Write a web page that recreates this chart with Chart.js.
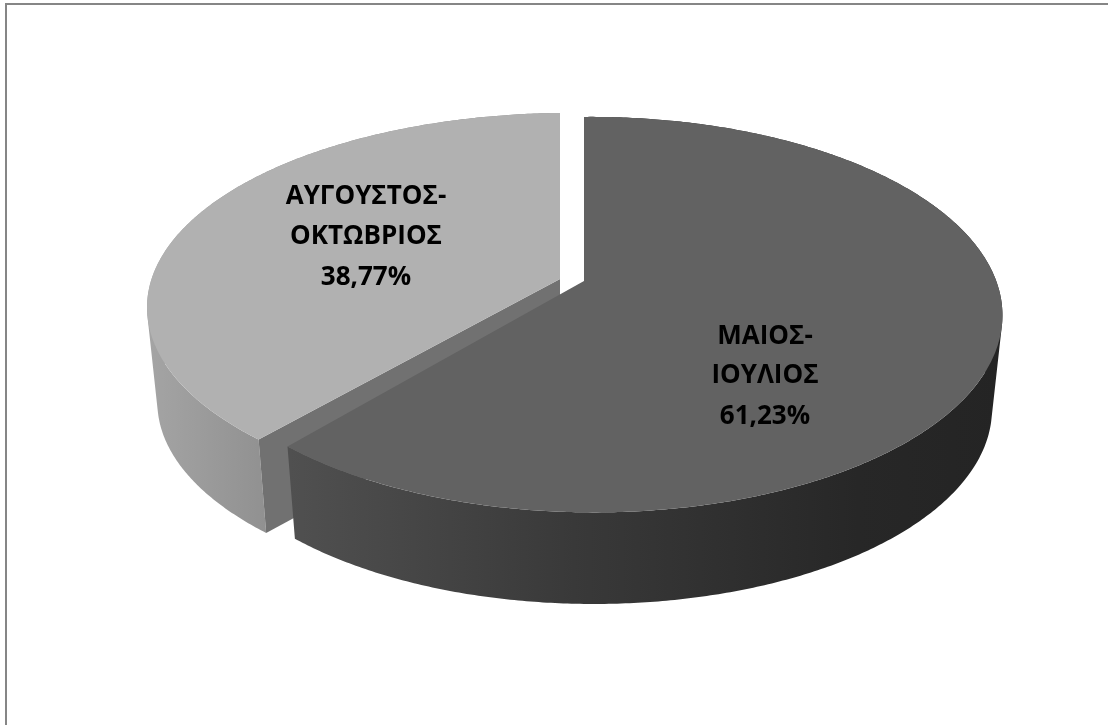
<!DOCTYPE html>
<html>
<head>
<meta charset="utf-8">
<title>Pie</title>
<script src="https://cdn.jsdelivr.net/npm/chart.js@4"></script>
<style>
    html, body { margin: 0; padding: 0; background: #fff; overflow: hidden; }
    #wrap { position: relative; width: 1108px; height: 725px; }
    #frame { position: absolute; left: 5px; top: 3px; right: 0; bottom: 0; border-left: 2px solid #868686; border-top: 2px solid #868686; }
    canvas { position: absolute; left: 0; top: 0; }
</style>
</head>
<body>
<div id="wrap">
    <canvas id="pieChart" width="1108" height="725"></canvas>
    <div id="frame"></div>
</div>
<script>
// Data
const categories = [['ΜΑΙΟΣ-', 'ΙΟΥΛΙΟΣ'], ['ΑΥΓΟΥΣΤΟΣ-', 'ΟΚΤΩΒΡΙΟΣ']];
const values = [61.23, 38.77];

const topColors = ['#626262', '#b1b1b1'];
const faceColor = '#717171';

// Perspective of each slice: top disc and bottom disc
const views = [
    { cx: 584, cy: 281, cyLow: 375, r: 404, a: 192, aLow: 190, k: 0.17, m: 0.02 },
    { cx: 560, cy: 279, cyLow: 374, r: 420.7, a: 191, aLow: 189, k: 0.15, m: 0.03 }
];
const lowScale = 0.975;

// Label centres and line positions
const labelCentres = [{ x: 765, y: [337, 376, 417] }, { x: 366, y: [197, 237, 278] }];

function project(view, angle, radius, low) {
    const u = Math.cos(angle) * radius;
    const v = Math.sin(angle) * radius;
    const w = 1 - view.k * v - view.m * u;
    return {
        x: view.cx + (low ? lowScale : 1) * view.r * u / w,
        y: (low ? view.cyLow : view.cy) + (low ? view.aLow : view.a) * v / w
    };
}

function sideGradient(ctx, index) {
    if (index === 0) {
        const g = ctx.createLinearGradient(290, 0, 1000, 0);
        g.addColorStop(0, '#505050');
        g.addColorStop(0.4, '#393939');
        g.addColorStop(0.8, '#272727');
        g.addColorStop(1, '#242424');
        return g;
    }
    const g = ctx.createLinearGradient(150, 0, 270, 0);
    g.addColorStop(0, '#a4a4a4');
    g.addColorStop(1, '#909090');
    return g;
}

// add one quad to the current path, always with the same winding
function addQuad(ctx, pts) {
    let area = 0;
    pts.forEach((p, n) => {
        const o = pts[(n + 1) % pts.length];
        area += p.x * o.y - o.x * p.y;
    });
    const ordered = area < 0 ? pts.slice().reverse() : pts;
    ctx.moveTo(ordered[0].x, ordered[0].y);
    ordered.slice(1).forEach(p => ctx.lineTo(p.x, p.y));
    ctx.closePath();
}

const pie3d = {
    id: 'pie3d',
    beforeDatasetsDraw(chart) {
        const ctx = chart.ctx;
        const arcs = chart.getDatasetMeta(0).data;
        const step = Math.PI / 360;
        // back slice first, the large one sits in front of it
        [1, 0].forEach(i => {
            const arc = arcs[i];
            const view = views[i];
            ctx.save();
            // outer wall
            ctx.fillStyle = sideGradient(ctx, i);
            ctx.beginPath();
            for (let t = arc.startAngle; t < arc.endAngle; t += step) {
                const t2 = Math.min(t + step, arc.endAngle);
                addQuad(ctx, [
                    project(view, t, 1, false),
                    project(view, t2, 1, false),
                    project(view, t2, 1, true),
                    project(view, t, 1, true)
                ]);
            }
            ctx.fill();
            // cut face of the light slice, the other one looks away from us
            const apex = project(view, 0, 0, false);
            if (i === 1) {
                const p2 = project(view, arc.startAngle, 1, false);
                const p3 = project(view, arc.startAngle, 1, true);
                const p4 = project(view, 0, 0, true);
                ctx.fillStyle = faceColor;
                ctx.beginPath();
                ctx.moveTo(apex.x, apex.y);
                ctx.lineTo(p2.x, p2.y);
                ctx.lineTo(p3.x, p3.y);
                ctx.lineTo(p4.x, p4.y);
                ctx.closePath();
                ctx.fill();
            }
            // top of the slice
            ctx.fillStyle = topColors[i];
            ctx.beginPath();
            ctx.moveTo(apex.x, apex.y);
            for (let t = arc.startAngle; t < arc.endAngle; t += step) {
                const p = project(view, t, 1, false);
                ctx.lineTo(p.x, p.y);
            }
            const last = project(view, arc.endAngle, 1, false);
            ctx.lineTo(last.x, last.y);
            ctx.closePath();
            ctx.fill();
            ctx.restore();
        });
        return false;
    },
    afterDraw(chart) {
        const ctx = chart.ctx;
        ctx.save();
        ctx.fillStyle = '#000';
        ctx.font = '700 26px "Open Sans"';
        ctx.textAlign = 'center';
        ctx.textBaseline = 'middle';
        categories.forEach((lines, i) => {
            const pos = labelCentres[i];
            const text = lines.concat(values[i].toFixed(2).replace('.', ',') + '%');
            text.forEach((line, n) => ctx.fillText(line, pos.x, pos.y[n]));
        });
        ctx.restore();
    }
};

new Chart(document.getElementById('pieChart').getContext('2d'), {
    type: 'pie',
    data: {
        labels: categories.map(c => c.join(' ')),
        datasets: [{
            data: values,
            backgroundColor: topColors,
            borderWidth: 0
        }]
    },
    options: {
        responsive: false,
        animation: false,
        rotation: 0,
        plugins: {
            legend: { display: false },
            tooltip: { enabled: false }
        }
    },
    plugins: [pie3d]
});
</script>
</body>
</html>
